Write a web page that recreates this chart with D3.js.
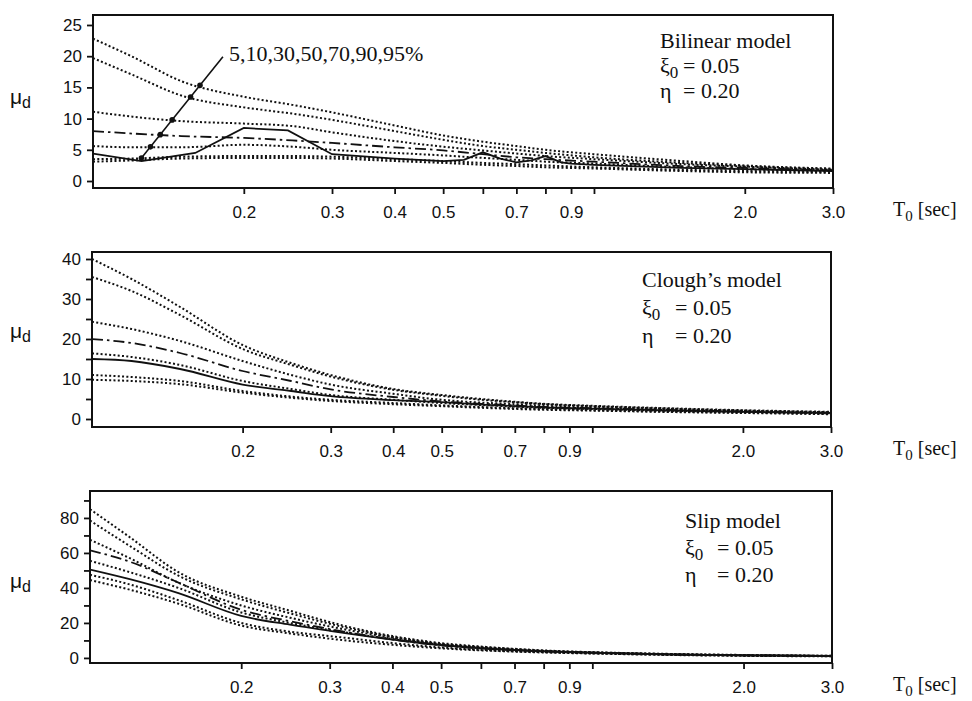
<!DOCTYPE html>
<html>
<head>
<meta charset="utf-8">
<title>Ductility spectra</title>
<script src="https://cdn.jsdelivr.net/npm/d3@7/dist/d3.min.js"></script>
<style>
  body { margin: 0; background: #fff; }
  svg { display: block; }
</style>
</head>
<body>
<main id="container"></main>
<script>
// periods T0 [sec] shared by the percentile curves
const periods = [0.1, 0.12, 0.15, 0.2, 0.25, 0.3, 0.4, 0.5, 0.6, 0.7, 0.8, 1.0, 1.5, 2.0, 3.0];

// bilinear model
const bilinearP95 = [22.8, 19.9, 16.0, 13.5, 12.2, 11.0, 8.9, 7.3, 6.3, 5.6, 5.0, 4.3, 3.2, 2.5, 2.0];
const bilinearP90 = [19.7, 17.0, 13.7, 11.8, 10.8, 9.8, 8.0, 6.6, 5.6, 5.0, 4.5, 3.8, 2.9, 2.4, 1.9];
const bilinearP70 = [11.1, 10.3, 9.6, 9.2, 8.8, 7.8, 6.4, 5.5, 4.9, 4.4, 4.0, 3.5, 2.7, 2.3, 1.8];
const bilinearP50 = [8.0, 7.6, 7.2, 6.9, 6.5, 6.1, 5.4, 4.9, 4.3, 3.8, 3.5, 3.1, 2.4, 2.1, 1.7];
const bilinearP30 = [5.6, 5.4, 5.4, 5.8, 5.5, 5.0, 4.5, 4.1, 3.7, 3.4, 3.1, 2.8, 2.2, 1.9, 1.6];
const bilinearP10 = [3.5, 3.6, 3.9, 4.0, 4.0, 3.9, 3.5, 3.2, 2.9, 2.7, 2.5, 2.2, 1.8, 1.6, 1.4];
const bilinearP5 = [3.1, 3.3, 3.6, 3.7, 3.7, 3.6, 3.2, 2.9, 2.6, 2.4, 2.2, 2.0, 1.6, 1.4, 1.3];
const bilinearRecordPeriods = [0.1, 0.125, 0.16, 0.2, 0.245, 0.3, 0.4, 0.5, 0.55, 0.6, 0.65, 0.7, 0.75, 0.8, 0.86, 0.9, 1.0, 1.5, 2.0, 3.0];
const bilinearRecord = [4.4, 3.2, 4.5, 8.5, 8.1, 4.3, 3.6, 3.2, 3.4, 4.6, 3.6, 3.0, 3.3, 4.0, 3.0, 2.8, 2.6, 2.1, 1.9, 1.6];

// Clough's model
const cloughP95 = [40, 35, 28, 18.5, 14, 11, 7.5, 6, 5, 4.3, 3.8, 3.3, 2.6, 2.2, 1.8];
const cloughP90 = [35.5, 32, 26, 17.5, 13.5, 10.6, 7.3, 5.8, 4.8, 4.2, 3.7, 3.2, 2.5, 2.1, 1.7];
const cloughP70 = [24.3, 22.5, 19.5, 14.5, 11, 8.6, 6.3, 4.8, 4.1, 3.7, 3.3, 2.9, 2.3, 2.0, 1.6];
const cloughP50 = [20, 19, 16.5, 12, 9.5, 7.4, 5.5, 4.4, 3.8, 3.4, 3.0, 2.7, 2.2, 1.9, 1.5];
const cloughP30 = [16.4, 15.5, 13.5, 9.5, 7.5, 6.0, 4.8, 4.0, 3.5, 3.1, 2.8, 2.5, 2.0, 1.8, 1.4];
const cloughP10 = [11, 10.5, 9.5, 7, 5.6, 4.8, 4.0, 3.4, 3.0, 2.7, 2.5, 2.2, 1.8, 1.6, 1.3];
const cloughP5 = [9.8, 9.5, 8.7, 6.6, 5.3, 4.5, 3.7, 3.2, 2.8, 2.5, 2.3, 2.1, 1.7, 1.5, 1.2];
const cloughRecord = [15, 14.5, 12.5, 8.6, 7, 5.7, 4.7, 4.2, 3.6, 3.2, 2.9, 2.6, 2.1, 1.8, 1.5];

// slip model
const slipP95 = [85, 69, 49, 35, 27, 20.5, 12.5, 8.5, 6.5, 5.2, 4.3, 3.3, 2.2, 1.7, 1.2];
const slipP90 = [78.5, 64, 47, 33.5, 25.5, 19.5, 12, 8, 6.2, 5, 4.1, 3.2, 2.1, 1.6, 1.2];
const slipP70 = [67.5, 57, 43, 30, 23, 18, 11.5, 7.7, 5.9, 4.8, 4.0, 3.1, 2.0, 1.5, 1.1];
const slipP50 = [61.5, 55, 43, 27.5, 21, 16.5, 10.5, 7.2, 5.5, 4.5, 3.8, 3.0, 1.9, 1.5, 1.1];
const slipP30 = [55.5, 49, 40, 26, 20, 16, 10.8, 7.5, 5.7, 4.6, 3.9, 3.0, 1.9, 1.5, 1.1];
const slipP10 = [47.5, 42, 33, 20, 15, 12.5, 8.5, 6, 4.6, 3.8, 3.3, 2.6, 1.7, 1.3, 1.0];
const slipP5 = [44.5, 39, 31, 18.5, 14, 11, 7.5, 5.5, 4.3, 3.6, 3.1, 2.5, 1.6, 1.2, 0.9];
const slipRecord = [50.5, 45, 37, 24, 19, 15.5, 10.5, 7.3, 5.5, 4.5, 3.8, 3.0, 1.9, 1.5, 1.1];

// axis ticks
const xTicks = [0.2, 0.3, 0.4, 0.5, 0.6, 0.7, 0.8, 0.9, 1.0, 2.0, 3.0];
const xTickLabels = ["0.2", "0.3", "0.4", "0.5", "", "0.7", "", "0.9", "", "2.0", "3.0"];
const modelNames = ["Bilinear model", "Clough\u2019s model", "Slip model"];
const xi0Text = "= 0.05";
const etaText = "= 0.20";
const percentileNote = "5,10,30,50,70,90,95%";

// leader for the percentile note (T0, mu) at the bilinear panel
const leaderStart = [0.1247, 3.6];
const leaderEnd = [0.1817, 19.9];

const width = 972;
const height = 701;
const sans = "'Liberation Sans', Arial, sans-serif";
const serif = "'Liberation Serif', 'Times New Roman', serif";

const panels = [
  {
    name: modelNames[0], left: 93, right: 833, top: 15, bottom: 188,
    yDomain: [-1.12, 26.6], yTicks: d3.range(0, 26, 5), yLabelStep: 5,
    percentiles: [bilinearP5, bilinearP10, bilinearP30, bilinearP70, bilinearP90, bilinearP95],
    median: bilinearP50,
    recordT: bilinearRecordPeriods, record: bilinearRecord, recordCurve: d3.curveLinear,
    text: { x: 660, x2: 683, y: 48, gap: 25 }, muY: 104
  },
  {
    name: modelNames[1], left: 92, right: 831, top: 252, bottom: 427,
    yDomain: [-2, 41.75], yTicks: d3.range(0, 41, 5), yLabelStep: 10,
    percentiles: [cloughP5, cloughP10, cloughP30, cloughP70, cloughP90, cloughP95],
    median: cloughP50,
    recordT: periods, record: cloughRecord, recordCurve: d3.curveMonotoneX,
    text: { x: 642, x2: 675, y: 287, gap: 28 }, muY: 338
  },
  {
    name: modelNames[2], left: 90, right: 832, top: 491, bottom: 663,
    yDomain: [-2.9, 95.4], yTicks: d3.range(0, 91, 10), yLabelStep: 20,
    percentiles: [slipP5, slipP10, slipP30, slipP70, slipP90, slipP95],
    median: slipP50,
    recordT: periods, record: slipRecord, recordCurve: d3.curveMonotoneX,
    text: { x: 685, x2: 717, y: 528, gap: 27 }, muY: 588
  }
];

const svg = d3.select("#container")
  .append("svg")
  .attr("width", width)
  .attr("height", height);

const ink = "#111";

panels.forEach((p, pi) => {
  const x = d3.scaleLog().domain([0.1, 3.0]).range([p.left, p.right]);
  const y = d3.scaleLinear().domain(p.yDomain).range([p.bottom, p.top]);
  const g = svg.append("g");

  const line = (curve) => d3.line()
    .x(d => x(d[0]))
    .y(d => y(d[1]))
    .curve(curve);

  // clip so lines stay inside the frame
  const clipId = "clip" + pi;
  svg.append("clipPath").attr("id", clipId)
    .append("rect")
    .attr("x", p.left).attr("y", p.top)
    .attr("width", p.right - p.left).attr("height", p.bottom - p.top);

  const lines = g.append("g").attr("clip-path", `url(#${clipId})`);

  lines.selectAll("path.pct")
    .data(p.percentiles.map(vals => periods.map((t, i) => [t, vals[i]])))
    .join("path")
    .attr("class", "pct")
    .attr("fill", "none")
    .attr("stroke", ink)
    .attr("stroke-width", 2)
    .attr("stroke-dasharray", "2,2.3")
    .attr("d", line(d3.curveMonotoneX));

  lines.append("path")
    .datum(periods.map((t, i) => [t, p.median[i]]))
    .attr("fill", "none")
    .attr("stroke", ink)
    .attr("stroke-width", 1.8)
    .attr("stroke-dasharray", "11,4,2.5,4")
    .attr("d", line(d3.curveMonotoneX));

  lines.append("path")
    .datum(p.recordT.map((t, i) => [t, p.record[i]]))
    .attr("fill", "none")
    .attr("stroke", ink)
    .attr("stroke-width", 1.8)
    .attr("d", line(p.recordCurve));

  // frame
  g.append("rect")
    .attr("x", p.left).attr("y", p.top)
    .attr("width", p.right - p.left).attr("height", p.bottom - p.top)
    .attr("fill", "none")
    .attr("stroke", ink)
    .attr("stroke-width", 2);

  // axes
  const yAxis = g.append("g")
    .attr("transform", `translate(${p.left},0)`)
    .call(d3.axisLeft(y)
      .tickValues(p.yTicks)
      .tickSize(6)
      .tickPadding(5)
      .tickFormat(v => (v % p.yLabelStep === 0 ? v : "")));

  const xAxis = g.append("g")
    .attr("transform", `translate(0,${p.bottom})`)
    .call(d3.axisBottom(x)
      .tickValues(xTicks)
      .tickSize(6)
      .tickPadding(12)
      .tickFormat((v, i) => xTickLabels[i]));

  [yAxis, xAxis].forEach(a => {
    a.select(".domain").remove();
    a.selectAll(".tick line").attr("stroke", ink).attr("stroke-width", 1.8);
    a.selectAll(".tick text")
      .attr("fill", ink)
      .style("font-family", sans)
      .style("font-size", "17px");
  });

  // axis titles
  const mu = g.append("text")
    .attr("x", 10).attr("y", p.muY)
    .attr("fill", ink)
    .style("font-family", sans)
    .style("font-size", "21px")
    .text("\u03bc");
  mu.append("tspan").attr("dy", 4).style("font-size", "16px").text("d");

  const tLabel = g.append("text")
    .attr("x", 893).attr("y", p.bottom + 28)
    .attr("fill", ink)
    .style("font-family", serif)
    .style("font-size", "20px")
    .text("T");
  tLabel.append("tspan").attr("dy", 5).style("font-size", "15px").text("0");
  tLabel.append("tspan").attr("dy", -5).text(" [sec]");

  // model annotation
  const note = g.append("g")
    .attr("fill", ink)
    .style("font-family", serif)
    .style("font-size", "22px");
  note.append("text").attr("x", p.text.x).attr("y", p.text.y).text(p.name);
  const xi = note.append("text").attr("x", p.text.x).attr("y", p.text.y + p.text.gap).text("\u03be");
  xi.append("tspan").attr("dy", 5).style("font-size", "17px").text("0");
  note.append("text").attr("x", p.text.x2).attr("y", p.text.y + p.text.gap).text(xi0Text);
  note.append("text").attr("x", p.text.x).attr("y", p.text.y + 2 * p.text.gap).text("\u03b7");
  note.append("text").attr("x", p.text.x2).attr("y", p.text.y + 2 * p.text.gap).text(etaText);

  // percentile leader on the first panel
  if (pi === 0) {
    const x0 = x(leaderStart[0]), y0 = y(leaderStart[1]);
    const x1 = x(leaderEnd[0]), y1 = y(leaderEnd[1]);
    g.append("line")
      .attr("x1", x0).attr("y1", y0).attr("x2", x1).attr("y2", y1)
      .attr("stroke", ink).attr("stroke-width", 1.6);

    // dots where the leader crosses each percentile curve
    const curves = [p.percentiles[0], p.percentiles[1], p.percentiles[2], p.median,
      p.percentiles[3], p.percentiles[4], p.percentiles[5]];
    const logT = periods.map(Math.log);
    const valueAt = (vals, t) => {
      const lt = Math.log(t);
      const i = Math.max(0, Math.min(periods.length - 2, d3.bisectRight(logT, lt) - 1));
      const f = (lt - logT[i]) / (logT[i + 1] - logT[i]);
      return vals[i] + f * (vals[i + 1] - vals[i]);
    };
    const dots = [];
    curves.forEach(vals => {
      let prev = null;
      for (let s = 0; s <= 200; s++) {
        const px = x0 + (x1 - x0) * s / 200;
        const py = y0 + (y1 - y0) * s / 200;
        const diff = y.invert(py) - valueAt(vals, x.invert(px));
        if (prev && Math.sign(diff) !== Math.sign(prev.diff)) {
          dots.push([px, py]);
          break;
        }
        prev = { diff };
      }
    });
    g.selectAll("circle.dot")
      .data(dots)
      .join("circle")
      .attr("class", "dot")
      .attr("cx", d => d[0]).attr("cy", d => d[1])
      .attr("r", 2.8)
      .attr("fill", ink);

    g.append("text")
      .attr("x", x1 + 6).attr("y", y1 + 4)
      .attr("fill", ink)
      .style("font-family", serif)
      .style("font-size", "22px")
      .text(percentileNote);
  }
});
</script>
</body>
</html>
